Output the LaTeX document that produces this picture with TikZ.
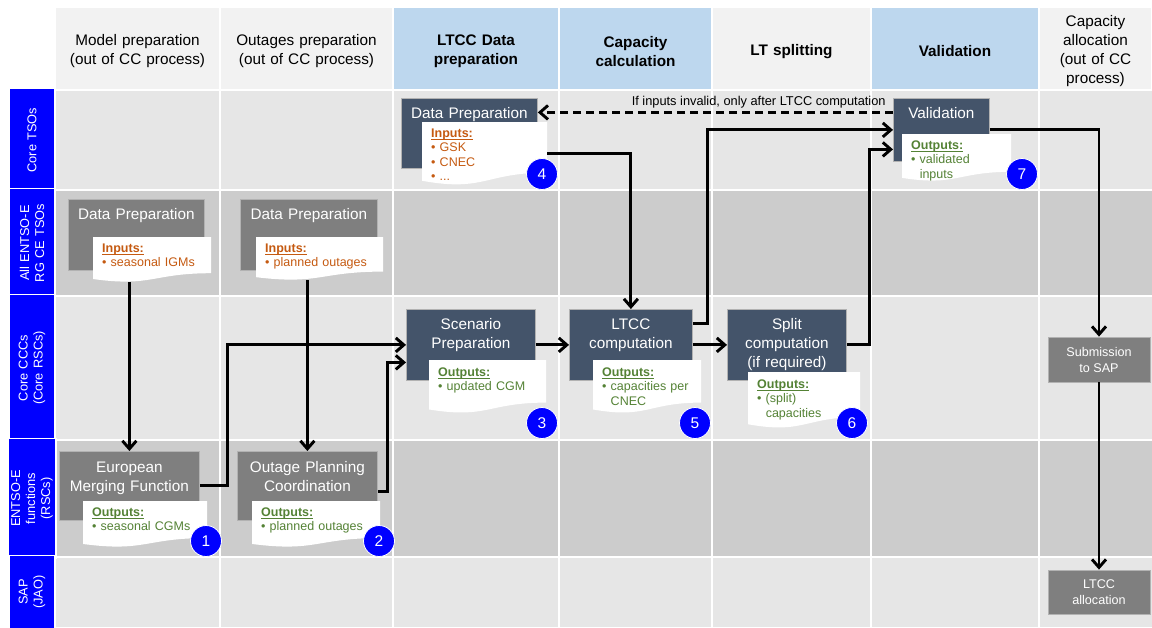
\documentclass[tikz,border=0pt]{standalone}
\usepackage{fontspec}
\setmainfont{Liberation Sans}
\usetikzlibrary{arrows.meta,calc,positioning}
\definecolor{headgray} {RGB}{242,242,242}
\definecolor{headblue} {RGB}{189,215,238}
\definecolor{lanelight}{RGB}{230,230,230}
\definecolor{lanedark} {RGB}{204,204,204}
\definecolor{laneblue} {RGB}{  0,  0,255}
\definecolor{procgray} {RGB}{127,127,127}
\definecolor{procslate}{RGB}{ 68, 84,106}
\definecolor{inorange} {RGB}{197, 90, 17}
\definecolor{outgreen} {RGB}{ 84,130, 53}

% underlined heading of an input/output sheet
\newcommand\sheethead[1]{\setbox0\hbox{\textbf{#1}}\rlap{\rule[-2.2pt]{\wd0}{0.9pt}}\box0}
\newcommand\inhead{\sheethead{Inputs:}}
\newcommand\outhead{\sheethead{Outputs:}}
\newcommand\bul{\textbullet\ }
\newcommand\cont{\hphantom{\textbullet\ }}

\begin{document}
\begin{tikzpicture}[x=1pt,y=-1pt,
  grid/.style={draw=white,line width=1.5pt},
  headtext/.style={align=center,font=\fontsize{15.3}{19}\selectfont},
  lanecell/.style={draw=white,line width=1.5pt,fill=laneblue,text=white,rotate=90,
    minimum height=46pt,align=center,font=\fontsize{12.8}{15}\selectfont},
  box/.style={anchor=north west,inner sep=0pt,draw=black!30,line width=0.8pt,
    text=white,align=center,font=\fontsize{15.3}{19}\selectfont},
  graybox/.style={box,fill=procgray},
  slatebox/.style={box,fill=procslate},
  smallbox/.style={draw=black!30,line width=0.8pt,fill=procgray,text=white,align=center,
    minimum width=102pt,minimum height=45pt,inner sep=0pt,font=\fontsize{12.6}{16}\selectfont},
  paper/.style={path picture={
    \fill[white] let \p1=(path picture bounding box.north west),
                     \p2=(path picture bounding box.south east),
                     \n1={\y1-\y2} in
      (\x1,\y1) -- (\x2,\y1) -- (\x2,{\y2+0.2*\n1})
      .. controls ({(\x1+\x2)/2},{\y2+0.2*\n1}) and ({(\x1+\x2)/2},{\y2-0.11*\n1})
      .. (\x1,{\y2+0.07*\n1}) -- cycle;}},
  note/.style={anchor=north west,inner xsep=9pt,inner ysep=0pt,align=left,
    font=\fontsize{12.5}{14.5}\selectfont,paper},
  badge/.style={circle,fill=laneblue,draw=white,line width=0.8pt,text=white,
    minimum size=31pt,inner sep=0pt,font=\fontsize{15.5}{16}\selectfont},
  flow/.style={line width=2.9pt,-{Straight Barb[length=8pt,width=14pt]}},
  dflow/.style={flow,dash pattern=on 8pt off 5pt},
  dims/.style 2 args={text height=#1pt,text depth=#2pt},
]

\useasboundingbox (0,0) rectangle (1152,627);
\fill[white] (0,0) rectangle (1152,627);

%% ── Swim lanes ────────────────────────────────────────────────────────────
\foreach \ya/\yb/\shade in {90/190/lanelight,190/296/lanedark,296/440/lanelight,
                            440/557/lanedark,557/627/lanelight}
  \fill[\shade] (55,\ya) rectangle (1152,\yb);
\foreach \x in {220,393,559,712,871,1039}
  \draw[grid] (\x,90) -- (\x,627);
\foreach \y in {90,190,296,440,557}
  \draw[grid] (55,\y) -- (1152,\y);

%% Phase headers
\foreach \xa/\xb/\shade/\hname/\txt in {
    55/220/headgray/hmodel/{Model preparation\\(out of CC process)},
    220/393/headgray/houtage/{Outages preparation\\(out of CC process)},
    393/559/headblue/hdata/{\bfseries LTCC Data\\preparation},
    559/712/headblue/hcalc/{\bfseries Capacity\\calculation},
    712/871/headgray/hsplit/{\bfseries LT splitting},
    871/1039/headblue/hvalid/{\bfseries Validation},
    1039/1152/headgray/halloc/{Capacity\\allocation\\(out of CC\\process)}}
{
  \filldraw[grid,fill=\shade] (\xa,7) rectangle (\xb,90);
  \node[headtext,text width={(\xb-\xa-8)*1pt}] (\hname) at ({(\xa+\xb)/2},51.5) {\txt};
}

%% Actor labels
\foreach \ya/\yb/\lname/\txt in {
    90/190/lcore/{Core TSOs},
    190/296/lall/{All ENTSO-E\\RG CE TSOs},
    296/440/lccc/{Core CCCs\\(Core RSCs)},
    440/557/lrsc/{ENTSO-E\\functions\\(RSCs)},
    557/627/lsap/{SAP\\(JAO)}}
  \node[lanecell,minimum width={(\yb-\ya)*1pt},text width={(\yb-\ya-4)*1pt}]
    (\lname) at (32,{(\ya+\yb)/2}) {\txt};

%% ── Process boxes ─────────────────────────────────────────────────────────
\node[graybox,text width=136pt,dims={20}{51}] (dp1) at (68,199) {Data Preparation};
\node[graybox,text width=137pt,dims={20}{51}] (dp2) at (240,199) {Data Preparation};
\node[slatebox,text width=136pt,dims={20}{50}] (dp3) at (401,98) {Data Preparation};
\node[slatebox,text width=96pt,dims={20}{43}] (valid) at (893,98) {Validation};
\node[slatebox,text width=129pt,dims={20}{51}] (scen) at (406,309) {Scenario\\Preparation};
\node[slatebox,text width=123pt,dims={20}{51}] (ltcc) at (569,309) {LTCC\\computation};
\node[slatebox,text width=119pt,dims={20}{51}] (split) at (727,309)
  {Split\\computation\\(if required)};
\node[graybox,text width=140pt,dims={21}{48}] (emf) at (59,451) {European\\Merging Function};
\node[graybox,text width=140pt,dims={21}{48}] (opc) at (237,451) {Outage Planning\\Coordination};
\node[smallbox] (sub) at (1099,359.5) {Submission\\to SAP};
\node[smallbox,minimum height=44pt] (alloc) at (1099,592) {LTCC\\allocation};

%% Inputs / outputs sheets
\node[note,text=inorange,text width=100pt,dims={15}{30}] (in1) at (93,237)
  {\inhead\\\bul seasonal IGMs};
\node[note,text=inorange,text width=109pt,dims={15}{28}] (in2) at (256,237)
  {\inhead\\\bul planned outages};
\node[note,text=inorange,text width=107pt,dims={15}{48}] (in3) at (422,122)
  {\inhead\\\bul GSK\\\bul CNEC\\\bul ...};
\node[note,text=outgreen,text width=91pt,dims={15}{32}] (outv) at (902,134)
  {\outhead\\\bul validated\\\cont inputs};
\node[note,text=outgreen,text width=99pt,dims={16}{37}] (outs) at (429,360)
  {\outhead\\\bul updated CGM};
\node[note,text=outgreen,text width=90pt,dims={16}{37}] (outl) at (593,360)
  {\outhead\\\bul capacities per\\\cont CNEC};
\node[note,text=outgreen,text width=94pt,dims={16}{40}] (outp) at (748,372)
  {\outhead\\\bul (split)\\\cont capacities};
\node[note,text=outgreen,text width=106pt,dims={15}{31}] (oute) at (83,501)
  {\outhead\\\bul seasonal CGMs};
\node[note,text=outgreen,text width=110pt,dims={15}{31}] (outo) at (252,501)
  {\outhead\\\bul planned outages};

%% ── Flows ─────────────────────────────────────────────────────────────────
\draw[flow] (in1.south -| emf.north) -- (emf.north);
\draw[flow] (in2.south -| opc.north) -- (opc.north);
\draw[flow] (emf.east) -- ++(28,0) |- (scen.west);
\draw[flow] ([yshift=-5.5pt]opc.east) -- ++(10,0) |- ([yshift=-17.5pt]scen.west);
\draw[flow] (in3.east) -| (ltcc.north);
\draw[flow] (scen.east) -- (ltcc.west);
\draw[flow] (ltcc.east) -- (split.west);
\draw[flow] ([yshift=21pt]ltcc.east) -- ++(15,0) |- (valid.west);
\draw[flow] (split.east) -- ++(23,0) |- ([yshift=-19.5pt]valid.west);
\draw[flow] (valid.east) -| (sub.north);
\draw[flow] (sub.south) -- (alloc.north);

%% feedback when inputs are rejected
\draw[dflow] ([yshift=17.5pt]valid.west) --
  node[pos=0,anchor=base east,xshift=-6pt,yshift=7pt,inner sep=0pt,
       font=\fontsize{12.8}{14}\selectfont] (fback)
       {If inputs invalid, only after LTCC computation}
  ([yshift=21pt]dp3.east);

%% Step numbers
\node[badge] (b1) at (206,541) {1};
\node[badge] (b2) at (379,541) {2};
\node[badge] (b3) at (542,423) {3};
\node[badge] (b4) at (542,174) {4};
\node[badge] (b5) at (695,423) {5};
\node[badge] (b6) at (852,423) {6};
\node[badge] (b7) at (1022,174) {7};

\end{tikzpicture}
\end{document}
